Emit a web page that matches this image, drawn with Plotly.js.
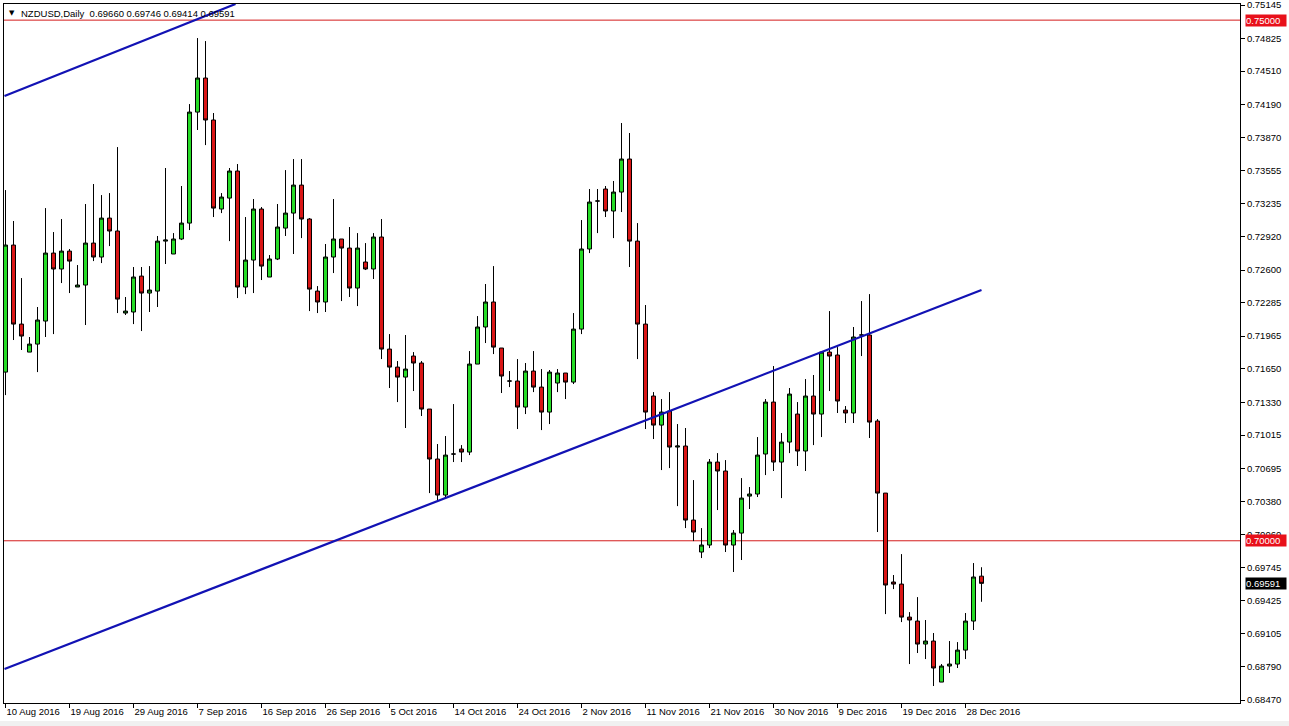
<!DOCTYPE html>
<html>
<head>
<meta charset="utf-8">
<script src="https://cdn.plot.ly/plotly-3.0.1.min.js"></script>
<style>
html,body{margin:0;padding:0;background:#fff;}
#chart{width:1289px;height:726px;}
</style>
</head>
<body>
<div id="chart"></div>
<script>
// NZDUSD daily candles (bar index 0 = 10 Aug 2016, Sunday bars included)
const opens = [0.71620,0.72840,0.72081,0.71812,0.71889,0.72110,0.72763,0.72610,0.72782,0.72437,
0.72456,0.72859,0.72725,0.73099,0.72975,0.72187,0.72197,0.72542,0.72379,0.72398,
0.72878,0.72754,0.72898,0.73051,0.74117,0.74444,0.74041,0.73186,0.73291,0.73551,
0.72437,0.72696,0.73186,0.72533,0.72706,0.73003,0.73147,0.73416,0.73090,0.72398,
0.72293,0.72725,0.72898,0.72811,0.72427,0.72677,0.72610,0.72917,0.71841,0.71668,
0.71572,0.71774,0.71707,0.71265,0.70785,0.70439,0.70833,0.70881,0.70852,0.71697,
0.72053,0.72293,0.71851,0.71534,0.71534,0.71284,0.71630,0.71476,0.71236,0.71515,
0.71611,0.71524,0.72033,0.72802,0.73263,0.73378,0.73167,0.73349,0.73666,0.72878,
0.72081,0.71390,0.71111,0.71246,0.70900,0.70910,0.70199,0.69892,0.69959,0.70756,
0.70670,0.69959,0.70074,0.70429,0.70449,0.70833,0.71332,0.70756,0.70948,0.71217,
0.70862,0.71390,0.71217,0.71812,0.71784,0.71255,0.71227,0.71976,0.71976,0.71150,
0.70458,0.69604,0.69584,0.69267,0.69229,0.69008,0.69037,0.68643,0.68797,0.68816,
0.68950,0.69229,0.69660];
const highs = [0.73368,0.73071,0.72523,0.71957,0.72245,0.73195,0.72965,0.73090,0.72802,0.72648,
0.73234,0.73426,0.73320,0.73339,0.73781,0.72341,0.72629,0.72629,0.72638,0.72927,
0.73580,0.72955,0.73407,0.74194,0.74828,0.74799,0.74108,0.73339,0.73580,0.73618,
0.73109,0.73282,0.73205,0.72744,0.73234,0.73560,0.73666,0.73666,0.73099,0.72446,
0.72850,0.73282,0.72898,0.73013,0.72955,0.72859,0.72955,0.73090,0.71985,0.71726,
0.71976,0.71812,0.71726,0.71265,0.70929,0.71006,0.71313,0.70919,0.71822,0.72158,
0.72466,0.72638,0.71851,0.71630,0.71745,0.71707,0.71822,0.71649,0.71640,0.71649,
0.71611,0.72187,0.73080,0.73378,0.73378,0.73407,0.73455,0.74012,0.73916,0.73051,
0.72264,0.71428,0.71361,0.71428,0.71121,0.71083,0.70583,0.70122,0.70785,0.70842,
0.70775,0.70103,0.70602,0.70516,0.70996,0.71361,0.71678,0.71035,0.71467,0.71332,
0.71553,0.71592,0.71812,0.72206,0.71860,0.71294,0.72053,0.72302,0.72369,0.71169,
0.70458,0.69671,0.69872,0.69315,0.69459,0.69239,0.69114,0.68816,0.69037,0.69027,
0.69306,0.69786,0.69746];
const lows = [0.71399,0.71928,0.71832,0.71812,0.71620,0.71957,0.71985,0.72475,0.72379,0.72437,
0.72072,0.72686,0.72667,0.72830,0.72187,0.72168,0.72081,0.72014,0.72197,0.72245,
0.72658,0.72754,0.72888,0.72984,0.73945,0.73800,0.73109,0.73147,0.72878,0.72331,
0.72369,0.72379,0.72504,0.72533,0.72696,0.72927,0.72754,0.72907,0.72206,0.72187,
0.72197,0.72571,0.72302,0.72341,0.72254,0.72600,0.72514,0.71745,0.71467,0.71332,
0.71083,0.71438,0.71198,0.70458,0.70391,0.70420,0.70756,0.70756,0.70823,0.71697,
0.71899,0.71793,0.71419,0.71476,0.71073,0.71217,0.71428,0.71063,0.71121,0.71428,
0.71361,0.71505,0.71985,0.72763,0.72955,0.73109,0.72907,0.73157,0.72629,0.71745,
0.71073,0.70977,0.70679,0.70698,0.70333,0.70122,0.69997,0.69834,0.69930,0.70295,
0.69892,0.69700,0.69815,0.70305,0.70420,0.70631,0.70670,0.70410,0.70842,0.70718,
0.70670,0.70919,0.70996,0.71438,0.71227,0.71131,0.71131,0.71774,0.70987,0.70084,
0.69296,0.69536,0.69219,0.68816,0.68922,0.68864,0.68605,0.68643,0.68730,0.68778,
0.68864,0.69143,0.69414];
const closes = [0.72840,0.72081,0.71966,0.71889,0.72120,0.72763,0.72610,0.72782,0.72686,0.72456,
0.72859,0.72725,0.73099,0.72975,0.72321,0.72206,0.72533,0.72379,0.72408,0.72878,
0.72888,0.72898,0.73051,0.74117,0.74444,0.74041,0.73195,0.73301,0.73551,0.72437,
0.72696,0.73186,0.72638,0.72706,0.73013,0.73147,0.73416,0.73090,0.72417,0.72293,
0.72725,0.72898,0.72811,0.72427,0.72811,0.72610,0.72917,0.71841,0.71668,0.71572,
0.71649,0.71707,0.71265,0.70785,0.70439,0.70823,0.70833,0.70852,0.71697,0.72053,
0.72293,0.71860,0.71582,0.71534,0.71284,0.71630,0.71476,0.71236,0.71620,0.71611,
0.71524,0.72033,0.72802,0.73253,0.73263,0.73167,0.73349,0.73666,0.72878,0.72081,
0.71236,0.71111,0.71236,0.70900,0.70910,0.70199,0.70084,0.69959,0.70756,0.70670,
0.69959,0.70074,0.70410,0.70449,0.70823,0.71332,0.70756,0.70948,0.71409,0.70862,
0.71390,0.71217,0.71812,0.71774,0.71342,0.71227,0.71957,0.71976,0.71140,0.70458,
0.69575,0.69584,0.69267,0.69239,0.69008,0.69037,0.68778,0.68797,0.68816,0.68950,
0.69229,0.69652,0.69591];

const dateTickBars = [0,8,16,24,32,40,48,56,64,72,80,88,96,104,112,120];
const dateTickText = ['10 Aug 2016','19 Aug 2016','29 Aug 2016','7 Sep 2016','16 Sep 2016','26 Sep 2016',
  '5 Oct 2016','14 Oct 2016','24 Oct 2016','2 Nov 2016','11 Nov 2016','21 Nov 2016','30 Nov 2016',
  '9 Dec 2016','19 Dec 2016','28 Dec 2016'];
const priceTicks = [0.75145,0.74825,0.74510,0.74190,0.73870,0.73555,0.73235,0.72920,0.72600,0.72285,
  0.71965,0.71650,0.71330,0.71015,0.70695,0.70380,0.70060,0.69745,0.69425,0.69105,0.68790,0.68470];

// trend lines [bar, price] end points, horizontal levels
const upperTrend = [[-0.125, 0.74271],[28.75, 0.75155]];
const lowerTrend = [[-0.125, 0.68768],[122, 0.72408]];
const levels = [0.75000, 0.70000];
const header = 'NZDUSD,Daily  0.69660 0.69746 0.69414 0.69591';
const lastPrice = 0.69591;

const bars = opens.map((_, i) => i);
const FONT = 'Liberation Sans, Arial, sans-serif';

const trace = {
  type: 'candlestick',
  x: bars, open: opens, high: highs, low: lows, close: closes,
  increasing: {line: {color: '#000000', width: 1}, fillcolor: '#27dc27'},
  decreasing: {line: {color: '#000000', width: 1}, fillcolor: '#d91616'},
  whiskerwidth: 0,
  hoverinfo: 'skip',
  showlegend: false
};

const shapes = [];
[upperTrend, lowerTrend].forEach(l => shapes.push({
  type: 'line', xref: 'x', yref: 'y',
  x0: l[0][0], y0: l[0][1], x1: l[1][0], y1: l[1][1],
  line: {color: '#1212b4', width: 2.2}, layer: 'above'
}));
levels.forEach(v => shapes.push({
  type: 'line', xref: 'paper', yref: 'y', x0: 0, x1: 1, y0: v, y1: v,
  line: {color: '#d41c1c', width: 1}, layer: 'below'
}));
shapes.push({type: 'rect', xref: 'paper', yref: 'paper', x0: -0.01, x1: 1.05,
  y0: -0.034, y1: -0.0258, fillcolor: '#f0f0f0', line: {width: 0}, layer: 'below'});

const annotations = [];
levels.forEach(v => annotations.push({
  xref: 'paper', yref: 'y', x: 1, y: v, xanchor: 'left', xshift: 5,
  text: v.toFixed(5), showarrow: false, bgcolor: '#e8101a', width: 40, height: 11,
  align: 'left', borderpad: 0, font: {family: FONT, size: 9.5, color: '#ffffff'}
}));
annotations.push({
  xref: 'paper', yref: 'y', x: 1, y: lastPrice, xanchor: 'left', xshift: 5,
  text: lastPrice.toFixed(5), showarrow: false, bgcolor: '#000000', width: 40, height: 11,
  align: 'left', borderpad: 0, font: {family: FONT, size: 9.5, color: '#ffffff'}
});
annotations.push({
  xref: 'paper', yref: 'paper', x: 0, y: 1, xanchor: 'left', yanchor: 'top', xshift: 3, yshift: -3,
  text: '\u25BC', showarrow: false, font: {family: 'DejaVu Sans', size: 7, color: '#000000'}
});
annotations.push({
  xref: 'paper', yref: 'paper', x: 0, y: 1, xanchor: 'left', yanchor: 'top', xshift: 15, yshift: -2,
  text: header, showarrow: false, font: {family: FONT, size: 9.5, color: '#000000'}
});

const layout = {
  width: 1289, height: 726,
  margin: {l: 4, r: 49, t: 4, b: 23, pad: 0},
  paper_bgcolor: '#ffffff', plot_bgcolor: '#ffffff',
  font: {family: FONT, size: 9.5, color: '#000000'},
  hovermode: false, dragmode: false,
  boxgap: 0.5, boxgroupgap: 0,
  xaxis: {
    range: [-0.1875, 154.3125], showgrid: false, zeroline: false,
    rangeslider: {visible: false},
    showline: true, mirror: true, linecolor: '#000000', linewidth: 1,
    tickmode: 'array', tickvals: dateTickBars, ticktext: dateTickText,
    ticks: 'outside', ticklen: 4, tickcolor: '#000000',
    ticklabelposition: 'outside right',
    tickfont: {family: FONT, size: 9.5, color: '#000000'}
  },
  yaxis: {
    range: [0.68442, 0.75155], side: 'right', showgrid: false, zeroline: false,
    showline: true, mirror: true, linecolor: '#000000', linewidth: 1,
    tickmode: 'array', tickvals: priceTicks, tickformat: '.5f',
    ticks: 'outside', ticklen: 4, tickcolor: '#000000',
    ticklabeloverflow: 'allow',
    tickfont: {family: FONT, size: 9.5, color: '#000000'}
  },
  shapes: shapes,
  annotations: annotations
};

Plotly.newPlot('chart', [trace], layout, {displayModeBar: false, staticPlot: true});
</script>
</body>
</html>
